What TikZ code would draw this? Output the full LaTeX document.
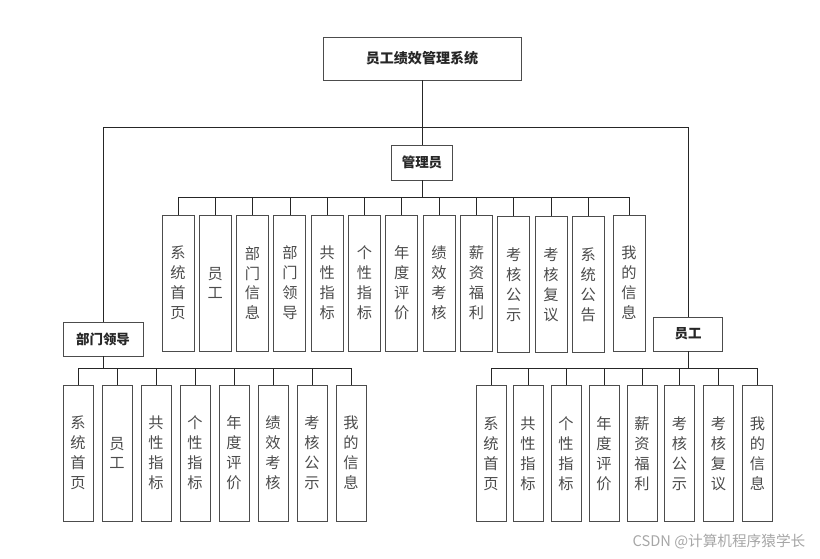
\documentclass[tikz,border=0pt]{standalone}
\usepackage{fontspec}
\setmainfont{Noto Sans CJK SC}
\usetikzlibrary{positioning}

\begin{document}
\begin{tikzpicture}[x=0.3mm, y=-0.3mm,
  sys/.style={draw=black!70, line width=0.8pt, fill=white, inner sep=0pt, text=black!85, font=\fontsize{12}{14}\selectfont\bfseries},
  role/.style={draw=black!70, line width=0.8pt, fill=white, inner sep=0pt, text=black!85, font=\fontsize{11.5}{14}\selectfont\bfseries},
  menu/.style={draw=black!70, line width=0.8pt, fill=white, inner sep=0pt, align=center, text=black!70, minimum height=40.8mm, font=\fontsize{13}{17}\selectfont},
  link/.style={draw=black!85, line width=0.6pt}
]
\useasboundingbox (0,0) rectangle (820,558);

\node[sys, minimum width=59.4mm, minimum height=12.9mm] (sys) at (422,58.5) {员工绩效管理系统};
\node[role, minimum width=18.3mm, minimum height=10.5mm] (admin) at (422,162.5) {管理员};
\node[role, minimum width=24mm, minimum height=10.2mm] (lead) at (103,339) {部门领导};
\node[role, minimum width=20.7mm, minimum height=10.2mm] (staff) at (688,334) {员工};

% menu管理员
\node[menu, minimum width=9.6mm] (a1) at (178,283) {系\\统\\首\\页};
\node[menu, minimum width=9.6mm] (a2) at (215.3,283) {员\\工};
\node[menu, minimum width=9.6mm] (a3) at (252.6,283) {部\\门\\信\\息};
\node[menu, minimum width=9.6mm] (a4) at (289.9,283) {部\\门\\领\\导};
\node[menu, minimum width=9.6mm] (a5) at (327.2,283) {共\\性\\指\\标};
\node[menu, minimum width=9.6mm] (a6) at (364.5,283) {个\\性\\指\\标};
\node[menu, minimum width=9.6mm] (a7) at (401.8,283) {年\\度\\评\\价};
\node[menu, minimum width=9.6mm] (a8) at (439.1,283) {绩\\效\\考\\核};
\node[menu, minimum width=9.6mm] (a9) at (476.4,283) {薪\\资\\福\\利};
\node[menu, minimum width=9.6mm] (a10) at (513.7,284.5) {考\\核\\公\\示};
\node[menu, minimum width=9.6mm] (a11) at (551,284.5) {考\\核\\复\\议};
\node[menu, minimum width=9.6mm] (a12) at (588.3,284.5) {系\\统\\公\\告};
\node[menu, minimum width=9.6mm] (a13) at (629,283) {我\\的\\信\\息};

% menu部门领导
\node[menu, minimum width=9mm] (d1) at (78,453) {系\\统\\首\\页};
\node[menu, minimum width=9mm] (d2) at (117,453) {员\\工};
\node[menu, minimum width=9mm] (d3) at (156,453) {共\\性\\指\\标};
\node[menu, minimum width=9mm] (d4) at (195,453) {个\\性\\指\\标};
\node[menu, minimum width=9mm] (d5) at (234,453) {年\\度\\评\\价};
\node[menu, minimum width=9mm] (d6) at (273,453) {绩\\效\\考\\核};
\node[menu, minimum width=9mm] (d7) at (312,453) {考\\核\\公\\示};
\node[menu, minimum width=9mm] (d8) at (351,453) {我\\的\\信\\息};

% menu员工
\node[menu, minimum width=9mm] (e1) at (491,453.5) {系\\统\\首\\页};
\node[menu, minimum width=9mm] (e2) at (528,453.5) {共\\性\\指\\标};
\node[menu, minimum width=9mm] (e3) at (566,453.5) {个\\性\\指\\标};
\node[menu, minimum width=9mm] (e4) at (604,453.5) {年\\度\\评\\价};
\node[menu, minimum width=9mm] (e5) at (642,453.5) {薪\\资\\福\\利};
\node[menu, minimum width=9mm] (e6) at (679.5,453.5) {考\\核\\公\\示};
\node[menu, minimum width=9mm] (e7) at (718.5,453.5) {考\\核\\复\\议};
\node[menu, minimum width=9mm] (e8) at (757.5,453.5) {我\\的\\信\\息};

\node[font=\fontsize{12.5}{14}\selectfont, text=black!35] (mark) at (719,542) {CSDN @计算机程序猿学长};

% sistem ke tiga peran
\draw[link] (sys.south) -- (admin.north);
\draw[link] (sys.south) -- ++(0,47) -| (lead.north);
\draw[link] (sys.south) -- ++(0,47) -| (staff.north);

% admin ke menu
\draw[link] (admin.south) -- ++(0,17) -| (a1.north);
\draw[link] (admin.south) -- ++(0,17) -| (a2.north);
\draw[link] (admin.south) -- ++(0,17) -| (a3.north);
\draw[link] (admin.south) -- ++(0,17) -| (a4.north);
\draw[link] (admin.south) -- ++(0,17) -| (a5.north);
\draw[link] (admin.south) -- ++(0,17) -| (a6.north);
\draw[link] (admin.south) -- ++(0,17) -| (a7.north);
\draw[link] (admin.south) -- ++(0,17) -| (a8.north);
\draw[link] (admin.south) -- ++(0,17) -| (a9.north);
\draw[link] (admin.south) -- ++(0,17) -| (a10.north);
\draw[link] (admin.south) -- ++(0,17) -| (a11.north);
\draw[link] (admin.south) -- ++(0,17) -| (a12.north);
\draw[link] (admin.south) -- ++(0,17) -| (a13.north);

% lead ke menu
\draw[link] (lead.south) -- ++(0,12) -| (d1.north);
\draw[link] (lead.south) -- ++(0,12) -| (d2.north);
\draw[link] (lead.south) -- ++(0,12) -| (d3.north);
\draw[link] (lead.south) -- ++(0,12) -| (d4.north);
\draw[link] (lead.south) -- ++(0,12) -| (d5.north);
\draw[link] (lead.south) -- ++(0,12) -| (d6.north);
\draw[link] (lead.south) -- ++(0,12) -| (d7.north);
\draw[link] (lead.south) -- ++(0,12) -| (d8.north);

% staff ke menu
\draw[link] (staff.south) -- ++(0,17) -| (e1.north);
\draw[link] (staff.south) -- ++(0,17) -| (e2.north);
\draw[link] (staff.south) -- ++(0,17) -| (e3.north);
\draw[link] (staff.south) -- ++(0,17) -| (e4.north);
\draw[link] (staff.south) -- ++(0,17) -| (e5.north);
\draw[link] (staff.south) -- ++(0,17) -| (e6.north);
\draw[link] (staff.south) -- ++(0,17) -| (e7.north);
\draw[link] (staff.south) -- ++(0,17) -| (e8.north);

\end{tikzpicture}
\end{document}
